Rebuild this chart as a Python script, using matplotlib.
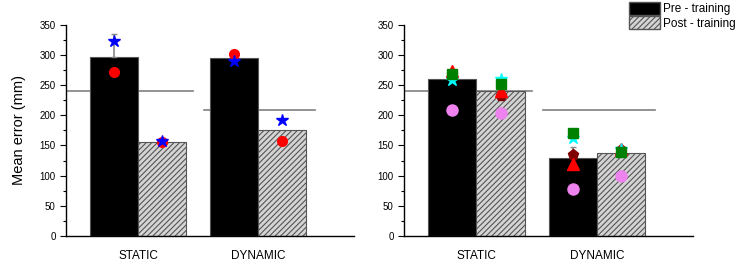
import matplotlib.pyplot as plt
import numpy as np
from matplotlib.patches import Patch

groups = ["STATIC", "DYNAMIC"]

# left panel
left_pre = [297, 295]
left_post = [155, 175]
left_pre_err = [38, 0]
left_ref = [241, 209]
left_pts_pre = {"circle": [271, 302], "star": [323, 290]}
left_pts_post = {"circle": [155, 157], "star": [157, 192]}

# right panel
right_pre = [260, 130]
right_post = [240, 137]
right_pre_err = [0, 18]
right_ref = [241, 209]
right_pts_pre = {
    "circle": [208, 78],
    "pentagon": [266, 135],
    "triangle": [273, 120],
    "star": [258, 163],
    "square": [268, 170],
}
right_pts_post = {
    "circle": [203, 100],
    "pentagon": [232, 143],
    "triangle": [240, 145],
    "star": [260, 145],
    "square": [252, 140],
}

ref_spans = [(-0.6, 0.46), (0.55, 1.48)]

left_style = {
    "circle": dict(marker="o", color="red", ms=7),
    "star": dict(marker="*", color="blue", ms=9),
}
right_style = {
    "circle": dict(marker="o", color="violet", ms=8),
    "pentagon": dict(marker="p", color="#800000", ms=8),
    "triangle": dict(marker="^", color="red", ms=8),
    "star": dict(marker="*", color="cyan", ms=9),
    "square": dict(marker="s", color="green", ms=7),
}

plt.rcParams["font.family"] = ["Liberation Sans", "DejaVu Sans"]
plt.rcParams["hatch.color"] = "#444444"
plt.rcParams["hatch.linewidth"] = 0.8

fig = plt.figure(figsize=(7.43, 2.65), dpi=100)
ax1 = fig.add_axes([0.089, 0.109, 0.387, 0.798])
ax2 = fig.add_axes([0.544, 0.109, 0.389, 0.798])

x = np.arange(len(groups))
w = 0.4


def draw(ax, pre, post, err, ref, pts_pre, pts_post, style):
    ax.bar(x - w / 2, pre, w, color="black", edgecolor="#555555", lw=0.8,
           yerr=[np.zeros(len(err)), err], error_kw=dict(ecolor="#888888", capsize=2, lw=1.2),
           zorder=2)
    ax.bar(x + w / 2, post, w, color="#d4d4d4", edgecolor="#555555", lw=0.8,
           hatch="//////", zorder=2)
    for i, (a, b) in enumerate(ref_spans):
        ax.plot([a, b], [ref[i], ref[i]], color="#808080", lw=1.2, zorder=1)
    for k, vals in pts_pre.items():
        ax.plot(x - w / 2, vals, ls="none", zorder=4, **style[k])
    for k, vals in pts_post.items():
        ax.plot(x + w / 2, vals, ls="none", zorder=4, **style[k])
    ax.set_xlim(-0.6, 1.8)
    ax.set_ylim(0, 350)
    ax.set_yticks(np.arange(0, 351, 50))
    ax.set_yticks(np.arange(25, 351, 50), minor=True)
    ax.set_xticks(x)
    ax.set_xticklabels(groups, fontsize=8.5)
    ax.tick_params(axis="x", length=0, pad=10)
    ax.tick_params(axis="y", labelsize=7, length=4, width=0.8, direction="out")
    ax.tick_params(axis="y", which="minor", length=2, width=0.8)
    for s in ["top", "right"]:
        ax.spines[s].set_visible(False)
    for s in ["left", "bottom"]:
        ax.spines[s].set_linewidth(1.0)


draw(ax1, left_pre, left_post, left_pre_err, left_ref, left_pts_pre, left_pts_post, left_style)
draw(ax2, right_pre, right_post, right_pre_err, right_ref, right_pts_pre, right_pts_post, right_style)

ax1.set_ylabel("Mean error (mm)", fontsize=10.5, labelpad=10)

handles = [
    Patch(facecolor="black", edgecolor="#555555", label="Pre - training"),
    Patch(facecolor="#d4d4d4", edgecolor="#555555", hatch="//////", label="Post - training"),
]
fig.legend(handles=handles, loc="upper right", bbox_to_anchor=(1.0, 1.02),
           frameon=False, fontsize=8.5, handlelength=2.6, handleheight=1.3,
           handletextpad=0.3, labelspacing=0.1, borderpad=0.1)

fig.savefig("out.png", dpi=100)
